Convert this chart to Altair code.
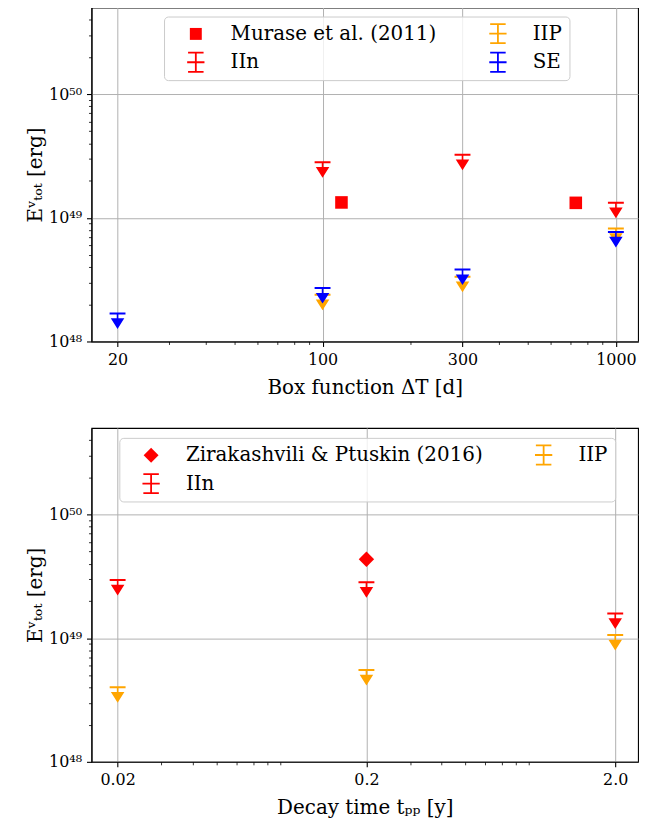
import altair as alt
import pandas as pd

# ---------------- top panel: box function duration ----------------
box_x = [20, 100, 300, 1000]
box_iin = [None, 2.81e49, 3.23e49, 1.32e49]
box_iip = [None, 2.39e48, 3.33e48, 8.2e48]
box_se = [1.68e48, 2.70e48, 3.81e48, 7.67e48]
murase_x = [116, 730]
murase_e = [1.33e49, 1.32e49]

# ---------------- bottom panel: decay time ----------------
decay_x = [0.02, 0.2, 2.0]
decay_iin = [2.95e49, 2.83e49, 1.58e49]
decay_iip = [4.01e48, 5.52e48, 1.06e49]
zp_x = [0.2]
zp_e = [4.34e49]

# ---------------- ticks ----------------
top_major = [20, 100, 300, 1000]
top_minor = [30, 40, 50, 60, 70, 80, 90, 200, 400, 500, 600, 700, 800, 900]
bot_major = [0.02, 0.2, 2.0]
bot_minor = [0.03, 0.04, 0.05, 0.06, 0.07, 0.08, 0.09,
             0.3, 0.4, 0.5, 0.6, 0.7, 0.8, 0.9]
y_major = [1e48, 1e49, 1e50]
y_major_labels = ["10⁴⁸", "10⁴⁹", "10⁵⁰"]
y_minor = [2e48, 3e48, 4e48, 5e48, 6e48, 7e48, 8e48, 9e48,
           2e49, 3e49, 4e49, 5e49, 6e49, 7e49, 8e49, 9e49,
           2e50, 3e50, 4e50]
y_domain = [1e48, 5e50]

RED, ORANGE, BLUE = "#ff0000", "#ffa500", "#0000ff"
SERIES_COLORS = {"IIn": RED, "IIP": ORANGE, "SE": BLUE,
                 "Murase et al. (2011)": RED, "Zirakashvili & Ptuskin (2016)": RED}
FONT = "DejaVu Serif"

# symbol shapes (unit paths)
LIMIT_PATH = ("M-1,-0.125H1V0.125H-1Z "
              "M-0.1,0H0.1V0.75H-0.1Z "
              "M-0.85,0.6H0.85L0,1.95Z")
ERRBAR_PATH = ("M-1.3,-1.75H1.3V-1.45H-1.3Z "
               "M-1.3,1.45H1.3V1.75H-1.3Z "
               "M-0.15,-1.75H0.15V1.75H-0.15Z "
               "M-1.45,-0.15H1.45V0.15H-1.45Z")
SQUARE_PATH = "M-1,-1H1V1H-1Z"
DIAMOND_PATH = "M0,-1.25L1.25,0L0,1.25L-1.25,0Z"


def limit_frame(xs, series):
    rows = []
    for name, vals in series:
        for x, v in zip(xs, vals):
            if v is not None:
                rows.append({"x": x, "e": v, "series": name})
    return pd.DataFrame(rows)


top_lim = limit_frame(box_x, [("IIn", box_iin), ("IIP", box_iip), ("SE", box_se)])
top_mod = pd.DataFrame({"x": murase_x, "e": murase_e,
                        "series": ["Murase et al. (2011)"] * len(murase_x)})
bot_lim = limit_frame(decay_x, [("IIn", decay_iin), ("IIP", decay_iip)])
bot_mod = pd.DataFrame({"x": zp_x, "e": zp_e,
                        "series": ["Zirakashvili & Ptuskin (2016)"] * len(zp_x)})

y_label_expr = "[" + ",".join("'%s'" % s for s in y_major_labels) + "][round(log(datum.value)/LN10) - 48]"


def panel(lim_df, mod_df, lim_series, leg_domain, leg_shapes, model_shape, model_size,
          xdomain, xmajor, xminor, xtitle, xlabel_expr, legx, legy):
    xs = alt.Scale(type="log", domain=xdomain, nice=False, zero=False)
    ys = alt.Scale(type="log", domain=y_domain, nice=False, zero=False)
    cscale = alt.Scale(domain=leg_domain, range=[SERIES_COLORS[s] for s in leg_domain])
    sscale = alt.Scale(domain=leg_domain, range=leg_shapes)

    x_maj = alt.X("x:Q", scale=xs, axis=alt.Axis(
        values=xmajor, labelExpr=xlabel_expr, title=xtitle, grid=True, orient="bottom",
        tickSize=5, tickWidth=1.1, labelPadding=5, titlePadding=10))
    x_min = alt.X("x:Q", scale=xs, axis=alt.Axis(
        values=xminor, labels=False, title=None, grid=False, orient="bottom",
        tickSize=3, tickWidth=0.8, domain=False))
    y_maj = alt.Y("e:Q", scale=ys, axis=alt.Axis(
        values=y_major, labelExpr=y_label_expr, title="Eᵛₜₒₜ [erg]", grid=True,
        orient="left", tickSize=5, tickWidth=1.1, labelPadding=5, titlePadding=3))
    y_min = alt.Y("e:Q", scale=ys, axis=alt.Axis(
        values=y_minor, labels=False, title=None, grid=False, orient="left",
        tickSize=3, tickWidth=0.8, domain=False))

    layers = []
    # model points (carry the major axes)
    layers.append(alt.Chart(mod_df).mark_point(
        shape=model_shape, filled=True, size=model_size, opacity=1, strokeWidth=0,
        color=SERIES_COLORS[mod_df["series"].iloc[0]]
    ).encode(x=x_maj, y=y_maj))
    # upper limits, one layer per series in drawing order
    for i, s in enumerate(lim_series):
        layers.append(alt.Chart(lim_df).transform_filter(
            alt.datum.series == s
        ).mark_point(
            shape=LIMIT_PATH, filled=True, size=256, opacity=1, strokeWidth=0,
            color=SERIES_COLORS[s]
        ).encode(x=x_min if i == 0 else alt.X("x:Q", scale=xs, axis=None),
                 y=y_min if i == 0 else alt.Y("e:Q", scale=ys, axis=None)))

    legend = alt.Legend(
        orient="none", legendX=legx, legendY=legy, columns=2, title=None,
        labelFont=FONT, labelFontSize=20, labelColor="black", labelLimit=500,
        symbolSize=144, symbolStrokeWidth=0, symbolOpacity=1,
        padding=7, symbolOffset=15, labelOffset=25, columnPadding=36, rowPadding=7,
        fillColor="rgba(255,255,255,0.8)", strokeColor="#cccccc", cornerRadius=4)

    layers.append(alt.Chart(lim_df).transform_filter("false").mark_point(
        filled=True, opacity=1
    ).encode(color=alt.Color("series:N", scale=cscale, legend=legend),
             shape=alt.Shape("series:N", scale=sscale, legend=legend)))

    return alt.layer(*layers).resolve_axis(
        x="independent", y="independent").properties(width=550, height=336)


top = panel(top_lim, top_mod, ["IIn", "IIP", "SE"],
            ["Murase et al. (2011)", "IIn", "IIP", "SE"],
            [SQUARE_PATH, ERRBAR_PATH, ERRBAR_PATH, ERRBAR_PATH],
            "square", 160,
            [16.3, 1190], top_major, top_minor, "Box function ΔT [d]",
            "format(datum.value, 'd')", 73, 9)

bottom = panel(bot_lim, bot_mod, ["IIn", "IIP"],
               ["Zirakashvili & Ptuskin (2016)", "IIn", "IIP"],
               [DIAMOND_PATH, ERRBAR_PATH, ERRBAR_PATH],
               "M0,-1L1,0L0,1L-1,0Z", 240,
               [0.0157, 2.47], bot_major, bot_minor, "Decay time tₚₚ [y]",
               "datum.value >= 1 ? format(datum.value, '.1f') : format(datum.value, '~g')",
               28, 10)

chart = alt.vconcat(top, bottom, spacing=29).resolve_scale(
    x="independent", y="independent", color="independent", shape="independent"
).resolve_legend(color="independent", shape="independent").properties(
    padding={"left": 17, "top": -4, "right": 5, "bottom": 5},
    background="white"
).configure_view(stroke="black", strokeWidth=1.1).configure_axis(
    labelFont=FONT, titleFont=FONT, labelFontSize=16, titleFontSize=20,
    titleFontWeight="normal", labelColor="black", titleColor="black",
    domainColor="black", domainWidth=1.1, tickColor="black",
    gridColor="#b0b0b0", gridWidth=1
)

chart.save("out.html", embed_options={"renderer": "svg", "actions": False})
